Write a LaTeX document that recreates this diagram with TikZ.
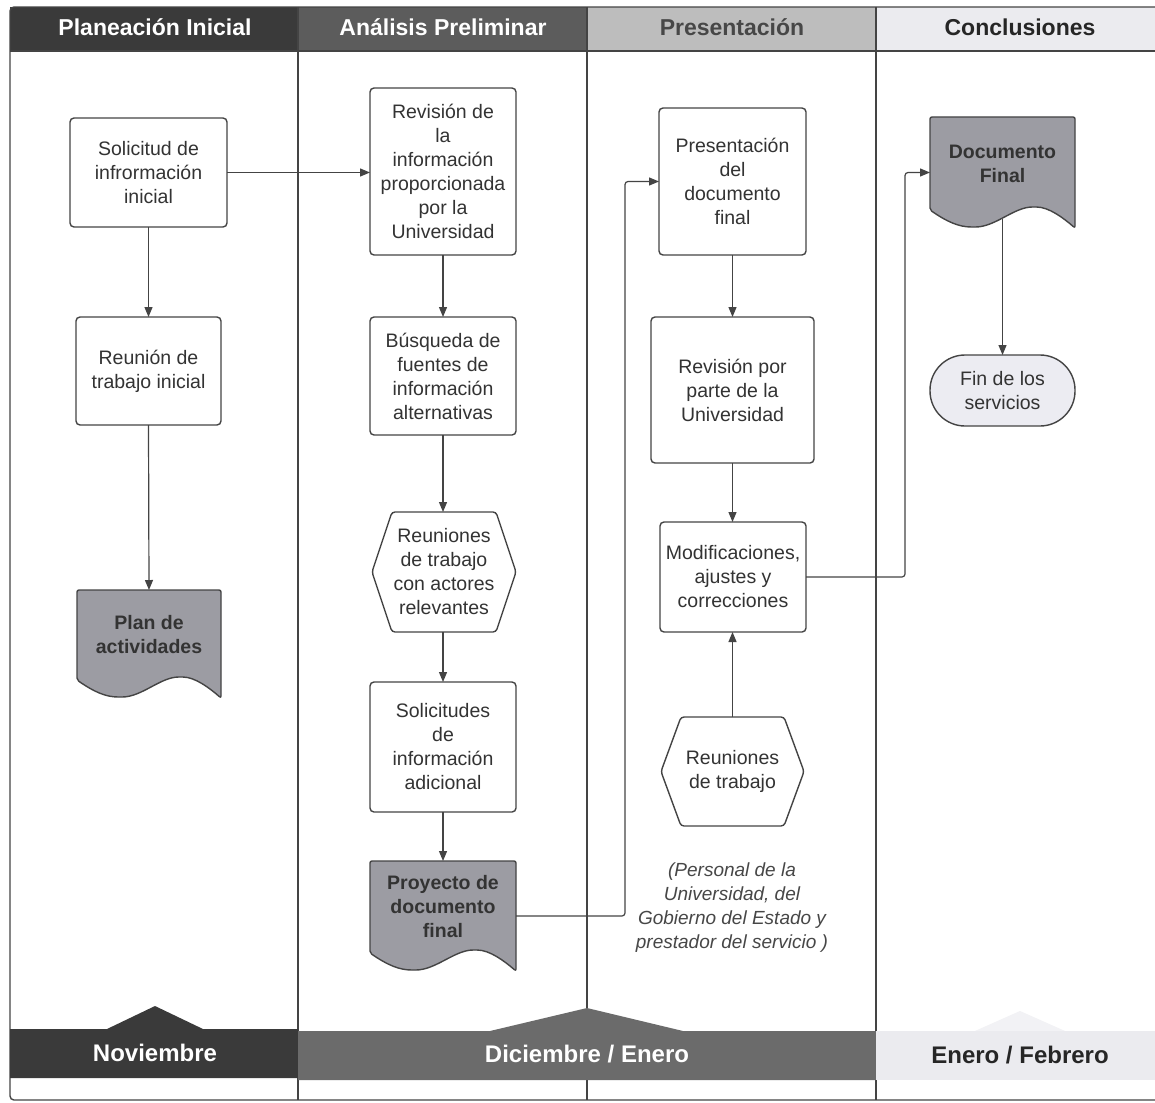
\documentclass[tikz,border=0pt]{standalone}
\usepackage{fontspec}
\setmainfont{Liberation Sans}
\usetikzlibrary{arrows.meta,calc,backgrounds}
\definecolor{lineC}{HTML}{444444}
\definecolor{txtC}{HTML}{333333}
\definecolor{docC}{HTML}{9C9CA3}
\definecolor{hdA}{HTML}{3A3A3A}
\definecolor{hdB}{HTML}{5C5C5C}
\definecolor{hdC}{HTML}{BDBDBD}
\definecolor{hdD}{HTML}{EBEBEF}
\definecolor{hdE}{HTML}{F2F2F5}
\definecolor{bandB}{HTML}{6B6B6B}
\definecolor{finC}{HTML}{ECECF2}
\newcommand\docshape[1]{%
  \draw[docs] (#1.north west) -- (#1.north east) -- ($(#1.south east)+(0,18)$)
   .. controls ($(#1.south west)!0.92!(#1.south east)+(0,8)$) and ($(#1.south west)!0.82!(#1.south east)+(0,-3)$) .. ($(#1.south west)!0.72!(#1.south east)+(0,-3)$)
   .. controls ($(#1.south west)!0.58!(#1.south east)+(0,-3)$) and ($(#1.south west)!0.45!(#1.south east)+(0,17)$) .. ($(#1.south west)!0.3!(#1.south east)+(0,17)$)
   .. controls ($(#1.south west)!0.2!(#1.south east)+(0,17)$) and ($(#1.south west)!0.12!(#1.south east)+(0,12)$) .. (#1.south west) -- cycle;}
\newcommand\hexshape[1]{%
  \draw[hexs] (#1.west) -- ($(#1.north west)+(20,0)$) -- ($(#1.north east)+(-20,0)$) -- (#1.east) -- ($(#1.south east)+(-20,0)$) -- ($(#1.south west)+(20,0)$) -- cycle;}
\begin{document}
\begin{tikzpicture}[x=1pt,y=-1pt,
  every node/.style={inner sep=0pt,outer sep=0pt},
  nodefont/.style={font=\fontsize{19.5}{24}\selectfont,text=txtC,align=center},
  proc/.style={nodefont,draw=lineC,line width=1.4pt,rounded corners=4pt,fill=white},
  plain/.style={nodefont,draw=none},
  doctext/.style={nodefont,font=\fontsize{19.5}{24}\selectfont\bfseries,draw=none},
  docs/.style={draw=lineC,line width=1.4pt,fill=docC,rounded corners=2pt},
  hexs/.style={draw=lineC,line width=1.4pt,fill=white,rounded corners=3pt},
  conn/.style={draw=lineC,line width=1.2pt,rounded corners=3pt,-{Triangle[length=10pt,width=8pt]}},
  hdr/.style={font=\fontsize{23}{26}\selectfont\bfseries},
  mon/.style={font=\fontsize{24}{26}\selectfont\bfseries}]
\useasboundingbox (0,0) rectangle (1155,1102);
% header
\fill[hdA] (10,7) rectangle (298,51);
\fill[hdB] (298,7) rectangle (587,51);
\fill[hdC] (587,7) rectangle (876,51);
\fill[hdD] (876,7) rectangle (1165,51);
% frame and dividers
\draw[lineC,line width=1.4pt,rounded corners=4pt] (10,7) rectangle (1165,1100);
\draw[lineC,line width=2pt] (10,51) -- (1165,51);
\foreach \xx in {298,587,876} \draw[lineC,line width=1.3pt] (\xx,7) -- (\xx,1100);
% bottom bands
\fill[hdA] (10,1029) -- (107,1029) -- (155,1006) -- (203,1029) -- (298,1029) -- (298,1078) -- (10,1078) -- cycle;
\fill[bandB] (298,1031) -- (490,1031) -- (587,1008) -- (683,1031) -- (876,1031) -- (876,1080) -- (298,1080) -- cycle;
\fill[hdE] (975,1031) -- (1020,1011) -- (1065,1031) -- cycle;
\fill[hdD] (876,1031) rectangle (1165,1080);
% header labels
\node[hdr,text=white] (h1) at (155,27) {Planeación Inicial};
\node[hdr,text=white] (h2) at (443,27) {Análisis Preliminar};
\node[hdr,text=txtC!90] (h3) at (732,27) {Presentación};
\node[hdr,text=black!85] (h4) at (1020,27) {Conclusiones};
\node[mon,text=white] (m1) at (155,1053) {Noviembre};
\node[mon,text=white] (m2) at (587,1054) {Diciembre / Enero};
\node[mon,text=black!85] (m3) at (1020,1055) {Enero / Febrero};
% column 1
\node[proc,minimum width=157,minimum height=109] (sol) at (148.5,172.5) {Solicitud de\\infrormación\\inicial};
\node[proc,minimum width=145,minimum height=108] (reu) at (148.5,371) {Reunión de\\trabajo inicial};
\node[doctext,minimum width=144,minimum height=90] (plan) at (149,635) {Plan de\\actividades};
% column 2
\node[proc,minimum width=146,minimum height=167] (rev) at (443,171.5) {Revisión de\\la\\información\\proporcionada\\por la\\Universidad};
\node[proc,minimum width=146,minimum height=118] (bus) at (443,376) {Búsqueda de\\fuentes de\\información\\alternativas};
\node[plain,minimum width=144,minimum height=120] (act) at (444,572) {Reuniones\\de trabajo\\con actores\\relevantes};
\node[proc,minimum width=146,minimum height=130] (sol2) at (443,747) {Solicitudes\\de\\información\\adicional};
\node[doctext,minimum width=146,minimum height=92] (proy) at (443,907) {Proyecto de\\documento\\final};
% column 3
\node[proc,minimum width=147,minimum height=147] (pres) at (732.5,181.5) {Presentación\\del\\documento\\final};
\node[proc,minimum width=163,minimum height=146] (revu) at (732.5,390) {Revisión por\\parte de la\\Universidad};
\node[proc,minimum width=146,minimum height=110] (mod) at (733,577) {Modificaciones,\\ajustes y\\correcciones};
\node[plain,minimum width=143,minimum height=109] (rt) at (732.5,771.5) {Reuniones\\de trabajo};
\node[nodefont,text=txtC!90,font=\fontsize{19}{24}\selectfont\itshape] (note) at (732,908) {(Personal de la\\Universidad, del\\Gobierno del Estado y\\prestador del servicio )};
% column 4
\node[doctext,minimum width=145,minimum height=93] (docf) at (1002.5,163.5) {Documento\\Final};
\node[proc,fill=finC,rounded corners=35pt,minimum width=145,minimum height=71] (fin) at (1002.5,390.5) {Fin de los\\servicios};
% shapes behind text
\begin{scope}[on background layer]
\fill[white] (0,0) rectangle (1155,1102);
\docshape{plan}
\docshape{proy}
\docshape{docf}
\hexshape{act}
\hexshape{rt}
\end{scope}
% connectors
\draw[conn] (sol.east) -- (rev.west |- sol.east);
\draw[conn] (sol.south) -- (reu.north);
\draw[conn] (reu.south) -- (plan.north);
\draw[conn] (rev.south) -- (bus.north);
\draw[conn] (bus.south) -- (act.north -| bus.south);
\draw[conn] (act.south -| bus.south) -- (sol2.north);
\draw[conn] (sol2.south) -- (proy.north);
\draw[conn] ($(proy.east)+(0,9)$) -- ++(109,0) |- (pres.west);
\draw[conn] (pres.south) -- (revu.north);
\draw[conn] (revu.south) -- (mod.north -| revu.south);
\draw[conn] (rt.north) -- (mod.south -| rt.north);
\draw[conn] (mod.east) -- ++(99,0) |- ($(docf.west)+(0,9)$);
\draw[conn] ($(docf.south)+(0,9)$) -- (fin.north);
\end{tikzpicture}
\end{document}
